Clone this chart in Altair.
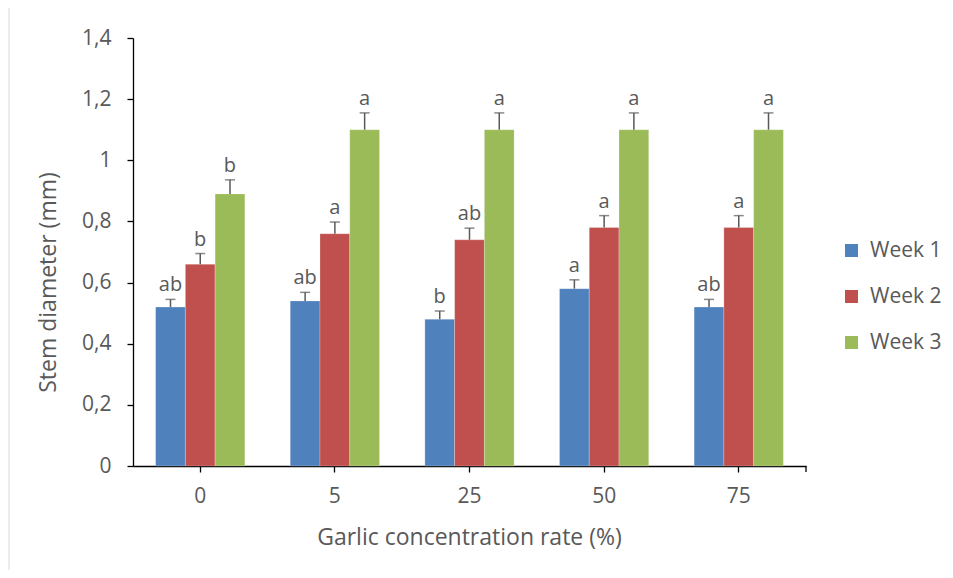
import altair as alt
import pandas as pd

categories = ["0", "5", "25", "50", "75"]
weeks = ["Week 1", "Week 2", "Week 3"]
week1 = [0.52, 0.54, 0.48, 0.58, 0.52]
week2 = [0.66, 0.76, 0.74, 0.78, 0.78]
week3 = [0.89, 1.10, 1.10, 1.10, 1.10]
err1 = [0.025, 0.028, 0.027, 0.029, 0.025]
err2 = [0.035, 0.038, 0.038, 0.039, 0.039]
err3 = [0.046, 0.055, 0.055, 0.055, 0.055]
letters1 = ["ab", "ab", "b", "a", "ab"]
letters2 = ["b", "a", "ab", "a", "a"]
letters3 = ["b", "a", "a", "a", "a"]
colors = ["#4F81BD", "#C0504D", "#9BBB59"]

rows = []
for w, vals, errs, lets in zip(weeks, [week1, week2, week3], [err1, err2, err3],
                               [letters1, letters2, letters3]):
    for c, v, e, l in zip(categories, vals, errs, lets):
        rows.append({"conc": c, "week": w, "value": v, "top": v + e, "letter": l})
df = pd.DataFrame(rows)

FONT = "Open Sans"
TXT = "#595959"

x = alt.X("conc:N", sort=categories,
          scale=alt.Scale(paddingInner=0.337, paddingOuter=0.168),
          axis=alt.Axis(title="Garlic concentration rate (%)", labelAngle=0,
                        domainColor="#000000", tickColor="#000000", tickSize=6,
                        labelPadding=13, titleX=336, titleY=71, titleBaseline="middle",
                        titleAlign="center"))
xo = alt.XOffset("week:N", sort=weeks, scale=alt.Scale(paddingInner=0, paddingOuter=0))
ysc = alt.Scale(domain=[0, 1.4], nice=False)

bars = alt.Chart(df).mark_bar(stroke="white", strokeWidth=0.4, strokeOpacity=0.6).encode(
    x=x, xOffset=xo,
    y=alt.Y("value:Q", scale=ysc,
            axis=alt.Axis(title="Stem diameter (mm)", values=[0, 0.2, 0.4, 0.6, 0.8, 1.0, 1.2, 1.4],
                          labelExpr="replace(toString(datum.value), '.', ',')",
                          grid=False, domainColor="#000000", tickColor="#000000",
                          tickSize=6, labelPadding=16, titleX=-85, titleY=244,
                          titleAngle=-90, titleBaseline="middle", titleAlign="center")),
    color=alt.Color("week:N", sort=weeks, scale=alt.Scale(domain=weeks, range=colors),
                    legend=alt.Legend(title=None, orient="none", legendX=708, legendY=202,
                                      symbolType="square", symbolSize=169,
                                      symbolStrokeWidth=0, labelFontSize=21,
                                      labelFont=FONT, labelColor=TXT, rowPadding=24,
                                      labelOffset=8)),
)

err = alt.Chart(df).mark_rule(color="#595959", strokeWidth=1.5).encode(
    x=x, xOffset=xo, y=alt.Y("value:Q", scale=ysc), y2="top:Q")
cap = alt.Chart(df).mark_tick(color="#595959", thickness=1.5, size=10, orient="horizontal").encode(
    x=x, xOffset=xo, y=alt.Y("top:Q", scale=ysc))
lab = alt.Chart(df).mark_text(font=FONT, fontSize=20, color=TXT, baseline="alphabetic",
                              dy=-8).encode(
    x=x, xOffset=xo, y=alt.Y("top:Q", scale=ysc), text="letter:N")

border = alt.Chart(pd.DataFrame({"k": [0]})).mark_rule(color="#d9d9d9", strokeWidth=1).encode(
    x=alt.value(-124), y=alt.value(-40), y2=alt.value(540))
endtick = alt.Chart(pd.DataFrame({"k": [0]})).mark_rule(color="#000000", strokeWidth=1.3).encode(
    x=alt.value(673), y=alt.value(428), y2=alt.value(434))

chart = alt.layer(bars, err, cap, lab, border, endtick).properties(
    width=673, height=428,
    background="white",
    autosize=alt.AutoSizeParams(type="none"),
    padding={"left": 125, "top": 30, "right": 139, "bottom": 104},
).configure_view(stroke=None).configure_axis(
    labelFont=FONT, titleFont=FONT, labelFontSize=21, titleFontSize=23,
    labelColor=TXT, titleColor=TXT, titleFontWeight="normal", domainWidth=1.3, tickWidth=1.3
)

chart.save("out.html", embed_options={"renderer": "svg", "actions": False})
